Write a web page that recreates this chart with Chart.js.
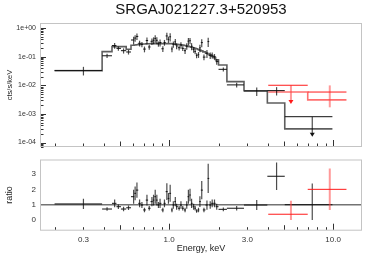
<!DOCTYPE html>
<html lang="en">
<head>
<meta charset="UTF-8">
<title>SRGAJ021227.3+520953</title>
<script src="https://cdn.jsdelivr.net/npm/chart.js"></script>
<style>
  html, body { margin: 0; padding: 0; background: #fff; }
  #wrap { position: relative; width: 366px; height: 258px; }
  #wrap canvas { position: absolute; left: 0; }
  #top { top: 0; }
  #bottom { top: 150px; }
</style>
</head>
<body>
<div id="wrap">
  <canvas id="top" width="366" height="150"></canvas>
  <canvas id="bottom" width="366" height="108"></canvas>
</div>
<script>
// black spectrum: bin edges (keV), bin centres, model, data and ratio
const binEdges = [0.2, 0.39, 0.448, 0.477, 0.508, 0.547, 0.585, 0.613, 0.628, 0.648, 0.671, 0.694, 0.72, 0.744, 0.77, 0.794,
  0.812, 0.831, 0.85, 0.87, 0.897, 0.925, 0.952, 0.979, 1.002, 1.027, 1.05, 1.075, 1.1, 1.13, 1.165, 1.195, 1.23, 1.265,
  1.295, 1.325, 1.355, 1.39, 1.425, 1.455, 1.49, 1.525, 1.56, 1.605, 1.665, 1.715, 1.755, 1.805, 1.86, 1.92, 2.0, 2.25,
  2.86, 3.97, 5.07, 9.9];
const energy = [0.3, 0.418, 0.465, 0.49, 0.527, 0.565, 0.607, 0.62, 0.636, 0.66, 0.682, 0.707, 0.732, 0.756, 0.785, 0.803,
  0.822, 0.841, 0.86, 0.88, 0.915, 0.936, 0.968, 0.99, 1.014, 1.04, 1.06, 1.09, 1.11, 1.15, 1.18, 1.21, 1.25, 1.28, 1.31,
  1.34, 1.37, 1.41, 1.44, 1.47, 1.51, 1.54, 1.58, 1.63, 1.7, 1.73, 1.78, 1.83, 1.89, 1.95, 2.14, 2.58, 3.42, 4.52, 7.46];
const modelRate = [0.032, 0.149, 0.223, 0.223, 0.223, 0.181, 0.25, 0.255, 0.26, 0.268, 0.274, 0.277, 0.28, 0.282, 0.285,
  0.285, 0.285, 0.285, 0.285, 0.285, 0.285, 0.285, 0.285, 0.284, 0.283, 0.28, 0.277, 0.273, 0.27, 0.265, 0.26, 0.252,
  0.244, 0.236, 0.228, 0.22, 0.212, 0.204, 0.195, 0.187, 0.178, 0.168, 0.158, 0.146, 0.133, 0.124, 0.113, 0.103, 0.092,
  0.077, 0.051, 0.0134, 0.0064, 0.0024, 0.0003];
const rate = [0.033, 0.107, 0.243, 0.194, 0.161, 0.145, 0.38, 0.444, 0.507, 0.292, 0.269, 0.183, 0.364, 0.217, 0.342,
  0.37, 0.433, 0.37, 0.279, 0.311, 0.188, 0.311, 0.527, 0.4, 0.492, 0.185, 0.271, 0.328, 0.235, 0.204, 0.255, 0.194,
  0.161, 0.231, 0.347, 0.359, 0.231, 0.177, 0.15, 0.11, 0.117, 0.202, 0.308, 0.096, 0.13, 0.336, 0.111, 0.112, 0.1,
  0.067, 0.036, 0.0103, 0.0063, 0.0065, 0.0008];
// null = upper limit
const rateErr = [0.011, 0.018, 0.056, 0.033, 0.033, 0.027, 0.113, 0.115, 0.13, 0.067, 0.055, 0.042, 0.098, 0.042, 0.086,
  0.1, 0.128, 0.1, 0.057, 0.086, 0.043, 0.071, 0.157, 0.099, 0.156, 0.042, 0.069, 0.082, 0.054, 0.04, 0.065, 0.038,
  0.037, 0.059, 0.103, 0.088, 0.064, 0.041, 0.029, 0.022, 0.027, 0.059, 0.095, 0.022, 0.04, 0.118, 0.028, 0.026, 0.023,
  0.015, 0.006, 0.002, 0.0021, 0.0021, null];
const limitTip = 0.00016;
const ratio = [1.05, 0.72, 1.09, 0.87, 0.72, 0.8, 1.52, 1.74, 1.95, 1.09, 0.98, 0.66, 1.3, 0.77, 1.2, 1.3, 1.52, 1.3,
  0.98, 1.09, 0.66, 1.09, 1.85, 1.41, 1.74, 0.66, 0.98, 1.2, 0.87, 0.77, 0.98, 0.77, 0.66, 0.98, 1.52, 1.63, 1.09, 0.87,
  0.77, 0.59, 0.66, 1.2, 1.95, 0.66, 0.98, 2.71, 0.98, 1.09, 1.09, 0.87, 0.7, 0.77, 0.98, 2.85, 1.0];
const ratioErr = [0.33, 0.12, 0.25, 0.15, 0.15, 0.15, 0.45, 0.45, 0.5, 0.25, 0.2, 0.15, 0.35, 0.15, 0.3, 0.35, 0.45,
  0.35, 0.2, 0.3, 0.15, 0.25, 0.55, 0.35, 0.55, 0.15, 0.25, 0.3, 0.2, 0.15, 0.25, 0.15, 0.15, 0.25, 0.45, 0.4, 0.3, 0.2,
  0.15, 0.12, 0.15, 0.35, 0.6, 0.15, 0.3, 0.95, 0.25, 0.25, 0.25, 0.2, 0.12, 0.15, 0.33, 0.9, 1.38];

// red spectrum
const redEdges = [4.02, 7.0, 12.06];
const redEnergy = [5.53, 9.54];
const redModel = [0.0058, 0.0031];
const redRate = [0.01, 0.0058];
const redRateErr = [null, 0.0041];
const redLimitTip = 0.0022;
const redRatio = [0.38, 2.0];
const redRatioErr = [0.88, 1.35];

// axes
const xMin = 0.163, xMax = 15;
const xTicks = [0.3, 1, 3, 10];
const yDecades = [1e-4, 1e-3, 1e-2, 1e-1, 1];
const ratioTicks = [0, 1, 2, 3];

const FONT = 'Liberation Sans, Arial, sans-serif';
Chart.defaults.font.family = FONT;

function stepPoints(edges, vals) {
    const pts = vals.map((v, i) => ({ x: edges[i], y: v }));
    pts.push({ x: edges[edges.length - 1], y: vals[vals.length - 1] });
    return pts;
}

function seg(ctx, x1, y1, x2, y2) {
    ctx.beginPath();
    ctx.moveTo(x1, y1);
    ctx.lineTo(x2, y2);
    ctx.stroke();
}

// fixed axis size, no extra label padding pushing the plot area around
function fixWidth(s) {
    s.width = 40;
    s.paddingTop = 0;
    s.paddingBottom = 0;
}

// crosses with x bins and y errors, upper limits drawn as arrows
function errorBars(sets) {
    return {
        id: 'errorBars',
        afterDatasetsDraw(chart) {
            const { ctx, chartArea: a, scales: { x, y } } = chart;
            const py = v => y.getPixelForValue(Math.max(v, 1e-9));
            ctx.save();
            ctx.beginPath();
            ctx.rect(a.left, a.top, a.width, a.height);
            ctx.clip();
            for (const s of sets) {
                for (let i = 0; i < s.x.length; i++) {
                    const cx = x.getPixelForValue(s.x[i]);
                    const cy = py(s.y[i]);
                    ctx.strokeStyle = s.vColor;
                    ctx.lineWidth = s.vWidth;
                    if (s.err[i] == null) {
                        const ty = py(s.tip);
                        seg(ctx, cx, cy, cx, ty - 3);
                        ctx.fillStyle = s.arrow;
                        ctx.beginPath();
                        ctx.moveTo(cx - 2.5, ty - 4);
                        ctx.lineTo(cx + 2.5, ty - 4);
                        ctx.lineTo(cx, ty);
                        ctx.closePath();
                        ctx.fill();
                    } else {
                        seg(ctx, cx, py(s.y[i] - s.err[i]), cx, py(s.y[i] + s.err[i]));
                    }
                    ctx.strokeStyle = s.hColor;
                    ctx.lineWidth = s.hWidth;
                    seg(ctx, x.getPixelForValue(s.lo[i]), cy, x.getPixelForValue(s.hi[i]), cy);
                }
            }
            ctx.restore();
        }
    };
}

// light frame and inner tick marks
function frame(logY) {
    return {
        id: 'frame',
        afterDraw(chart) {
            const { ctx, chartArea: a, scales: { x, y } } = chart;
            ctx.save();
            ctx.strokeStyle = '#c4c4c4';
            ctx.lineWidth = 1;
            ctx.strokeRect(a.left + 0.5, a.top + 0.5, a.width - 1, a.height - 1);
            ctx.strokeStyle = '#333';
            for (let d = -1; d <= 1; d++) {
                for (let m = 1; m <= 9; m++) {
                    const v = m * Math.pow(10, d);
                    if (v < xMin || v > xMax) continue;
                    const px = Math.round(x.getPixelForValue(v)) + 0.5;
                    const len = m === 1 ? 6 : (m === 5 ? 4.5 : 2.5);
                    seg(ctx, px, a.bottom - 1, px, a.bottom - 1 - len);
                }
            }
            if (logY) {
                for (let d = -5; d <= 0; d++) {
                    for (let m = 1; m <= 9; m++) {
                        const v = m * Math.pow(10, d);
                        if (v < y.min || v > y.max) continue;
                        const pyy = Math.round(y.getPixelForValue(v)) + 0.5;
                        const len = m === 1 ? 5 : 2.5;
                        seg(ctx, a.left + 1, pyy, a.left + 1 + len, pyy);
                    }
                }
            }
            ctx.restore();
        }
    };
}

const lineStyle = { pointRadius: 0, stepped: true, fill: false };

new Chart(document.getElementById('top'), {
    type: 'line',
    data: {
        datasets: [
            { ...lineStyle, data: stepPoints(binEdges, modelRate), borderColor: 'rgba(40,40,40,0.75)', borderWidth: 1.6 },
            { ...lineStyle, data: stepPoints(redEdges, redModel), borderColor: 'rgba(255,50,50,0.7)', borderWidth: 1.6 }
        ]
    },
    options: {
        responsive: false,
        animation: false,
        devicePixelRatio: 1,
        layout: { padding: { left: 0, right: 4, top: 0, bottom: 3 } },
        plugins: {
            legend: { display: false },
            tooltip: { enabled: false },
            title: {
                display: true, text: 'SRGAJ021227.3+520953', fullSize: false, color: '#111',
                font: { size: 15, weight: 'normal' }, padding: { top: 1, bottom: 4 }
            }
        },
        scales: {
            x: { type: 'logarithmic', min: xMin, max: xMax, display: false },
            y: {
                type: 'logarithmic', min: 7.3e-5, max: 1.49,
                afterFit: fixWidth,
                afterBuildTicks: s => { s.ticks = yDecades.map(v => ({ value: v })); },
                ticks: {
                    font: { size: 7 }, color: '#333', padding: 4,
                    callback: v => v.toExponential(0).replace(/e([+-])(\d)$/, (m, sg, dg) => 'e' + sg + '0' + dg)
                },
                grid: { display: false, drawTicks: false },
                border: { display: false },
                title: { display: true, text: 'cts/s/keV', color: '#222', font: { size: 7.5 }, padding: { top: 5.5, bottom: 0 } }
            }
        }
    },
    plugins: [frame(true), errorBars([
        { x: energy, lo: binEdges.slice(0, -1), hi: binEdges.slice(1), y: rate, err: rateErr, tip: limitTip,
          vColor: 'rgba(0,0,0,0.7)', vWidth: 1.2, hColor: '#111', hWidth: 1, arrow: '#111' },
        { x: redEnergy, lo: redEdges.slice(0, -1), hi: redEdges.slice(1), y: redRate, err: redRateErr, tip: redLimitTip,
          vColor: 'rgba(255,70,70,0.55)', vWidth: 2, hColor: '#ff1a1a', hWidth: 1, arrow: '#ff1a1a' }
    ])]
});

const unityLine = {
    id: 'unityLine',
    beforeDatasetsDraw(chart) {
        const { ctx, chartArea: a, scales: { y } } = chart;
        const py = y.getPixelForValue(1);
        ctx.save();
        ctx.strokeStyle = 'rgba(90,90,90,0.85)';
        ctx.lineWidth = 1.6;
        seg(ctx, a.left, py, a.right, py);
        ctx.restore();
    }
};

new Chart(document.getElementById('bottom'), {
    type: 'line',
    data: { datasets: [] },
    options: {
        responsive: false,
        animation: false,
        devicePixelRatio: 1,
        layout: { padding: { left: 0, right: 4, top: 9.5, bottom: 0 } },
        plugins: { legend: { display: false }, tooltip: { enabled: false } },
        scales: {
            x: {
                type: 'logarithmic', min: xMin, max: xMax,
                afterFit: s => { s.height = 27.3; s.paddingLeft = 0; s.paddingRight = 0; },
                afterBuildTicks: s => { s.ticks = xTicks.map(v => ({ value: v })); },
                ticks: { font: { size: 8 }, color: '#333', padding: 4, maxRotation: 0, autoSkip: false,
                    callback: v => Number(v).toFixed(1) },
                grid: { display: false, drawTicks: false },
                border: { display: false },
                title: { display: true, text: 'Energy, keV', color: '#222', font: { size: 9 }, padding: { top: 0, bottom: 4.3 } }
            },
            y: {
                type: 'linear', min: -0.69, max: 3.94,
                afterFit: fixWidth,
                afterBuildTicks: s => { s.ticks = ratioTicks.map(v => ({ value: v })); },
                ticks: { font: { size: 8 }, color: '#333', padding: 4 },
                grid: { display: false, drawTicks: false },
                border: { display: false },
                title: { display: true, text: 'ratio', color: '#222', font: { size: 9 }, padding: { top: 4.6, bottom: 0 } }
            }
        }
    },
    plugins: [unityLine, frame(false), errorBars([
        { x: energy, lo: binEdges.slice(0, -1), hi: binEdges.slice(1), y: ratio, err: ratioErr,
          vColor: 'rgba(0,0,0,0.7)', vWidth: 1.2, hColor: '#111', hWidth: 1, arrow: '#111' },
        { x: redEnergy, lo: redEdges.slice(0, -1), hi: redEdges.slice(1), y: redRatio, err: redRatioErr,
          vColor: 'rgba(255,70,70,0.55)', vWidth: 2, hColor: '#ff1a1a', hWidth: 1, arrow: '#ff1a1a' }
    ])]
});
</script>
</body>
</html>
